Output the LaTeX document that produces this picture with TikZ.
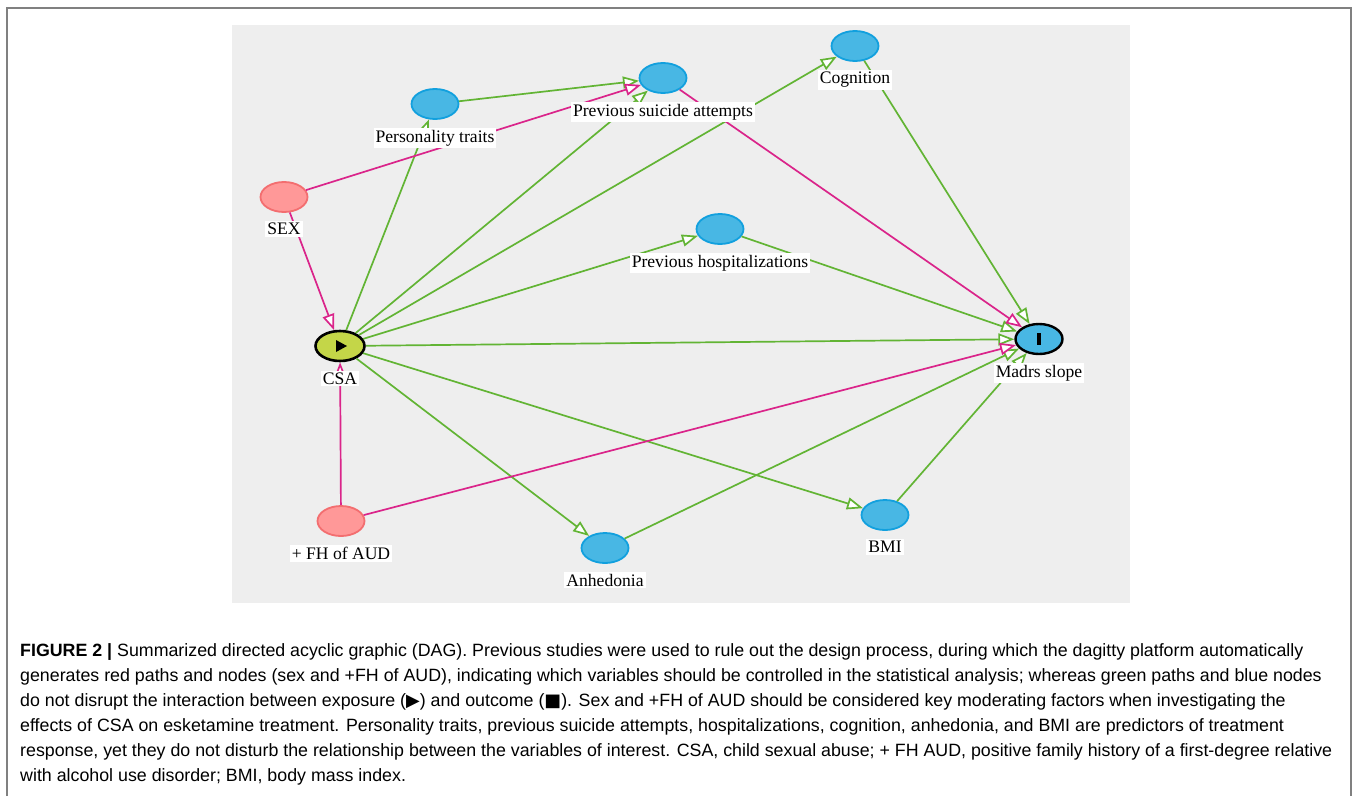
\documentclass[tikz,border=0pt]{standalone}
\usepackage{fontspec}
\setmainfont{Liberation Serif}
\newfontfamily\capfont{Liberation Sans}
\newfontfamily\symfont{DejaVu Sans}
\usetikzlibrary{shapes}
\usetikzlibrary{positioning}
\usetikzlibrary{arrows.meta}
\definecolor{panelgray}{RGB}{238,238,238}
\definecolor{nodeblue}{RGB}{72,183,228}
\definecolor{rimblue}{RGB}{18,160,222}
\definecolor{nodepink}{RGB}{255,152,152}
\definecolor{rimpink}{RGB}{243,110,112}
\definecolor{expgreen}{RGB}{196,214,72}
\definecolor{pathgreen}{RGB}{98,180,52}
\definecolor{pathpink}{RGB}{218,36,138}
\definecolor{framegray}{RGB}{128,128,128}
\tikzstyle{var}=[ellipse, draw=rimblue, fill=nodeblue, line width=1.8pt,
                 minimum width=47pt, minimum height=30pt, inner sep=0pt]
\tikzstyle{adj}=[var, draw=rimpink, fill=nodepink]
\tikzstyle{exposure}=[var, draw=black, fill=expgreen, line width=2.6pt, minimum width=49pt]
\tikzstyle{outcome}=[var, draw=black, line width=2.4pt]
\tikzstyle{tag}=[fill=white, inner sep=2pt, font=\fontsize{17.6}{19}\selectfont]
\tikzstyle{greenpath}=[draw=pathgreen, line width=1.7pt,
                       -{Triangle[fill=white, length=16pt, width=12pt]}]
\tikzstyle{pinkpath}=[greenpath, draw=pathpink]

\begin{document}
\begin{tikzpicture}[x=1pt, y=-1pt]
      \useasboundingbox (0,0) rectangle (1357,796);
      % Frame and grey panel
      \draw[framegray, line width=1.5pt] (7,796) -- (7,8) -- (1351,8) -- (1351,796);
      \fill[panelgray] (232,25) rectangle (1130,603);
      %
      % Place variables
      \foreach \place/\name in {{(855,46)/cog}, {(663,78)/psa}, {(435,104)/pers},
                                {(720,229)/hosp}, {(605,548)/anh}, {(885,515)/bmi}}
        \node[var] (\name) at \place {};
      \foreach \place/\name in {{(284,197)/sex}, {(341,521)/fh}}
        \node[adj] (\name) at \place {};
      \node[exposure] (csa) at (340,346) {};
      \node[outcome] (madrs) at (1039,339) {};
      \fill[shift={(csa.center)}] (-4,-6) -- (7,0) -- (-4,6) -- cycle;
      \fill[shift={(madrs.center)}] (-2,-6) rectangle (2,6);
      %
      % Connect them
      \foreach \source/\dest in {pers/psa, csa/pers, csa/psa, csa/cog, csa/hosp, csa/madrs,
                                 csa/anh, csa/bmi, cog/madrs, hosp/madrs, anh/madrs, bmi/madrs}
        \path[greenpath] (\source) edge (\dest);
      \foreach \source/\dest in {sex/psa, sex/csa, psa/madrs, fh/csa, fh/madrs}
        \path[pinkpath] (\source) edge (\dest);
      %
      % Labels
      \foreach \name/\text in {cog/Cognition, psa/Previous suicide attempts, pers/Personality traits,
                               sex/SEX, hosp/Previous hospitalizations, csa/CSA, madrs/Madrs slope,
                               fh/+ FH of AUD, anh/Anhedonia, bmi/BMI}
        \node[tag, below=8pt of \name] (\name-tag) {\text};
      %
      \node[anchor=north west, align=left, inner sep=0pt,
            font=\capfont\fontsize{17.8}{25}\selectfont] (caption) at (20,643)
        {\textbf{FIGURE 2 |} Summarized directed acyclic graphic (DAG). Previous studies were used to rule out the design process, during which the dagitty platform automatically\\
         generates red paths and nodes (sex and +FH of AUD), indicating which variables should be controlled in the statistical analysis; whereas green paths and blue nodes\\
         do not disrupt the interaction between exposure ({\symfont ▶}) and outcome ({\symfont ■}). Sex and +FH of AUD should be considered key moderating factors when investigating the\\
         effects of CSA on esketamine treatment. Personality traits, previous suicide attempts, hospitalizations, cognition, anhedonia, and BMI are predictors of treatment\\
         response, yet they do not disturb the relationship between the variables of interest. CSA, child sexual abuse; + FH AUD, positive family history of a first-degree relative\\
         with alcohol use disorder; BMI, body mass index.};
    \end{tikzpicture}
\end{document}
